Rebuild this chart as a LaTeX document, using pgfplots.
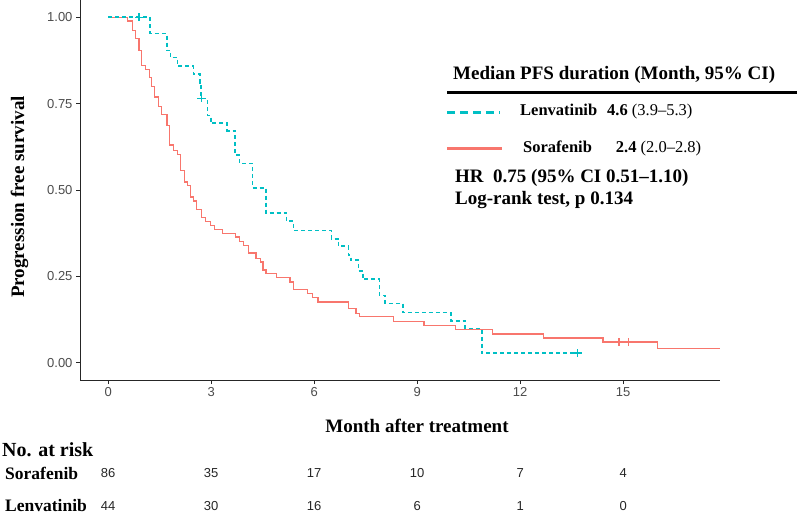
\documentclass[border=0pt]{standalone}
\usepackage{fontspec}
\setmainfont{Liberation Serif}
\setsansfont{Liberation Sans}
\usepackage{pgfplots}
\pgfplotsset{compat=1.18}
\definecolor{lenva}{HTML}{00BFC4}
\definecolor{sora}{HTML}{F8766D}

% Kaplan-Meier steps: time, survival after that time
\pgfplotstableread{
t s
0 1.000
0.57 0.989
0.71 0.962
0.79 0.938
0.90 0.904
0.98 0.861
1.08 0.849
1.20 0.825
1.26 0.800
1.34 0.769
1.46 0.742
1.56 0.719
1.71 0.687
1.79 0.630
1.90 0.615
2.02 0.603
2.10 0.557
2.22 0.523
2.31 0.514
2.39 0.480
2.49 0.468
2.58 0.443
2.71 0.420
2.83 0.408
2.99 0.398
3.10 0.385
3.33 0.374
3.70 0.364
3.82 0.350
3.94 0.340
4.09 0.318
4.31 0.302
4.43 0.292
4.51 0.268
4.60 0.258
4.91 0.247
5.30 0.234
5.40 0.212
5.81 0.200
5.96 0.189
6.11 0.176
7.00 0.157
7.22 0.142
7.32 0.133
8.31 0.120
9.20 0.108
10.11 0.096
11.19 0.083
12.68 0.072
14.41 0.060
16.00 0.041
17.82 0.041
}\sorafenib

\pgfplotstableread{
t s
0 1.000
1.22 0.953
1.71 0.904
1.81 0.883
2.02 0.859
2.49 0.835
2.68 0.810
2.71 0.765
2.89 0.716
2.99 0.694
3.46 0.671
3.70 0.601
3.82 0.577
4.20 0.506
4.59 0.434
5.20 0.410
5.40 0.383
6.50 0.359
6.71 0.338
7.00 0.311
7.07 0.297
7.29 0.266
7.42 0.242
7.90 0.195
8.07 0.171
8.58 0.145
9.98 0.121
10.40 0.099
10.88 0.028
13.67 0.028
}\lenvatinib

\begin{document}
\begin{tikzpicture}
\useasboundingbox (0,0) rectangle (797bp,-515bp);
\begin{axis}[
    at={(80bp,-380bp)}, anchor=south west,
    width=640bp, height=380bp, scale only axis,
    xmin=-0.82, xmax=17.82, ymin=-0.05, ymax=1.05,
    axis lines=left,
    axis line style={-, black!85, line width=0.8bp},
    tick align=outside, major tick length=4bp,
    tick style={black!85, line width=0.8bp},
    xtick={0,3,6,9,12,15}, xticklabels={0,3,6,9,12,15},
    ytick={0,0.25,0.5,0.75,1}, yticklabels={0.00,0.25,0.50,0.75,1.00},
    ticklabel style={font=\sffamily\fontsize{13bp}{13bp}\selectfont, text=black!70},
    clip=false,
]
\addplot[const plot, color=sora, line width=1.3bp] table[x=t, y=s] {\sorafenib};
\addplot[const plot, color=lenva, line width=1.6bp, dash pattern=on 4bp off 3bp] table[x=t, y=s] {\lenvatinib};

% censoring marks
\addplot[only marks, mark=+, mark size=4bp, color=lenva, mark options={line width=1.2bp}]
coordinates {(0.90,1.0) (2.71,0.765) (13.67,0.028)};
\addplot[only marks, mark=+, mark size=4bp, color=sora, mark options={line width=1.2bp}]
coordinates {(14.88,0.060) (15.16,0.060)};

% number at risk
\addplot[draw=none, nodes near coords, point meta=explicit symbolic,
    every node near coord/.append style={anchor=center, inner sep=0pt,
        font=\sffamily\fontsize{13bp}{13bp}\selectfont, text=black!85}]
table[meta=n] {
x y n
0 -0.320 86
3 -0.320 35
6 -0.320 17
9 -0.320 10
12 -0.320 7
15 -0.320 4
0 -0.416 44
3 -0.416 30
6 -0.416 16
9 -0.416 6
12 -0.416 1
15 -0.416 0
};
\end{axis}

% axis titles
\node[font=\bfseries\fontsize{19bp}{22bp}\selectfont] at (417bp,-426bp) {Month after treatment};
\node[rotate=90, font=\bfseries\fontsize{19bp}{22bp}\selectfont] at (19.5bp,-197bp) {Progression free survival};

% legend block
\node[anchor=west, inner sep=0pt, font=\bfseries\fontsize{19bp}{22bp}\selectfont] at (453bp,-75bp) {Median PFS duration (Month, 95\% CI)};
\draw[line width=2.5bp] (447bp,-92.5bp) -- (797bp,-92.5bp);
\draw[lenva, line width=3bp, dash pattern=on 8bp off 5bp] (447bp,-112bp) -- (500bp,-112bp);
\node[anchor=west, inner sep=0pt, font=\fontsize{16.5bp}{18bp}\selectfont] at (520bp,-112bp) {\textbf{Lenvatinib}\hspace{10bp}\textbf{4.6} (3.9--5.3)};
\draw[sora, line width=3bp] (447bp,-148bp) -- (502bp,-148bp);
\node[anchor=west, inner sep=0pt, font=\fontsize{16.5bp}{18bp}\selectfont] at (523bp,-148bp) {\textbf{Sorafenib}\hspace{24bp}\textbf{2.4} (2.0--2.8)};
\node[anchor=west, inner sep=0pt, font=\bfseries\fontsize{19bp}{22bp}\selectfont] at (455bp,-178bp) {HR\hspace{0.5em}0.75 (95\% CI 0.51--1.10)};
\node[anchor=west, inner sep=0pt, font=\bfseries\fontsize{19bp}{22bp}\selectfont] at (455bp,-200bp) {Log-rank test, p 0.134};

% risk table labels
\node[anchor=west, inner sep=0pt, font=\bfseries\fontsize{20bp}{22bp}\selectfont] at (2bp,-450bp) {No. at risk};
\node[anchor=west, inner sep=0pt, font=\bfseries\fontsize{17.5bp}{20bp}\selectfont] at (5bp,-473bp) {Sorafenib};
\node[anchor=west, inner sep=0pt, font=\bfseries\fontsize{17.5bp}{20bp}\selectfont] at (5bp,-506bp) {Lenvatinib};
\end{tikzpicture}
\end{document}
